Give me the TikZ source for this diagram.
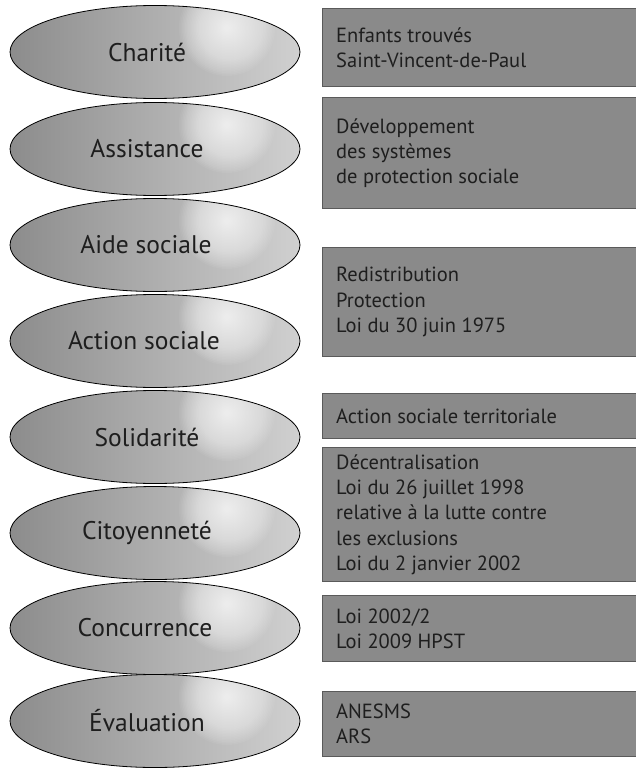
\documentclass[tikz,border=0pt]{standalone}
\usepackage{fontspec}
\setmainfont{PT Sans}
\usetikzlibrary{shapes.geometric}
\definecolor{ellL}{HTML}{8C8C8C}
\definecolor{ellM}{HTML}{BEBEBE}
\definecolor{ellR}{HTML}{D0D0D0}
\definecolor{boxfill}{HTML}{8A8A8A}
\definecolor{boxline}{HTML}{5A5A5A}
\definecolor{txt}{HTML}{1E1E1E}
\tikzset{
  ell/.style={ellipse, draw=black, line width=0.8pt, minimum width=290pt, minimum height=93pt, inner sep=0pt,
    left color=ellL, middle color=ellM, right color=ellR,
    path picture={\foreach \r in {1.5,3,...,48} {\fill[white, fill opacity=0.05] ([shift={(72,-24)}]path picture bounding box.center) circle (\r pt);}}},
  elltext/.style={text=txt, font=\fontsize{25.5}{30}\selectfont, inner sep=0pt},
  infobox/.style={draw=boxline, fill=boxfill, line width=1.2pt, anchor=north west, minimum width=320pt, inner sep=0pt},
  boxtext/.style={text=txt, font=\fontsize{20.5}{25.3}\selectfont, align=left, anchor=west, inner sep=0pt}
}
\begin{document}
\begin{tikzpicture}[x=1pt,y=-1pt]
\useasboundingbox (0,0) rectangle (636,768);
% ellipses
\node[ell] (e1) at (155,52) {};
\node[ell] (e2) at (155,149) {};
\node[ell] (e3) at (155,245) {};
\node[ell] (e4) at (155,341) {};
\node[ell] (e5) at (155,437) {};
\node[ell] (e6) at (155,533) {};
\node[ell] (e7) at (155,628) {};
\node[ell] (e8) at (155,721) {};
\node[elltext] (t1) at (147,52) {Charité};
\node[elltext] (t2) at (147,149) {Assistance};
\node[elltext] (t3) at (146,245) {Aide sociale};
\node[elltext] (t4) at (144,341) {Action sociale};
\node[elltext] (t5) at (147,437) {Solidarité};
\node[elltext] (t6) at (147,533) {Citoyenneté};
\node[elltext] (t7) at (145,628) {Concurrence};
\node[elltext] (t8) at (147,721) {Évaluation};
% boxes
\node[infobox, minimum height=78pt] (b1) at (322,8) {};
\node[infobox, minimum height=111pt] (b2) at (322,97) {};
\node[infobox, minimum height=109pt] (b3) at (322,247) {};
\node[infobox, minimum height=45pt] (b4) at (322,393) {};
\node[infobox, minimum height=134pt] (b5) at (322,447) {};
\node[infobox, minimum height=66pt] (b6) at (322,595) {};
\node[infobox, minimum height=65pt] (b7) at (322,691) {};
\node[boxtext] (x1) at ([xshift=14pt]b1.west) {Enfants trouvés\\Saint-Vincent-de-Paul};
\node[boxtext] (x2) at ([xshift=14pt]b2.west) {Développement\\des systèmes\\de protection sociale};
\node[boxtext] (x3) at ([xshift=14pt]b3.west) {Redistribution\\Protection\\Loi du 30 juin 1975};
\node[boxtext] (x4) at ([xshift=14pt]b4.west) {Action sociale territoriale};
\node[boxtext] (x5) at ([xshift=14pt]b5.west) {Décentralisation\\Loi du 26 juillet 1998\\relative à la lutte contre\\les exclusions\\Loi du 2 janvier 2002};
\node[boxtext] (x6) at ([xshift=14pt]b6.west) {Loi 2002/2\\Loi 2009 HPST};
\node[boxtext] (x7) at ([xshift=14pt]b7.west) {ANESMS\\ARS};
\end{tikzpicture}
\end{document}
